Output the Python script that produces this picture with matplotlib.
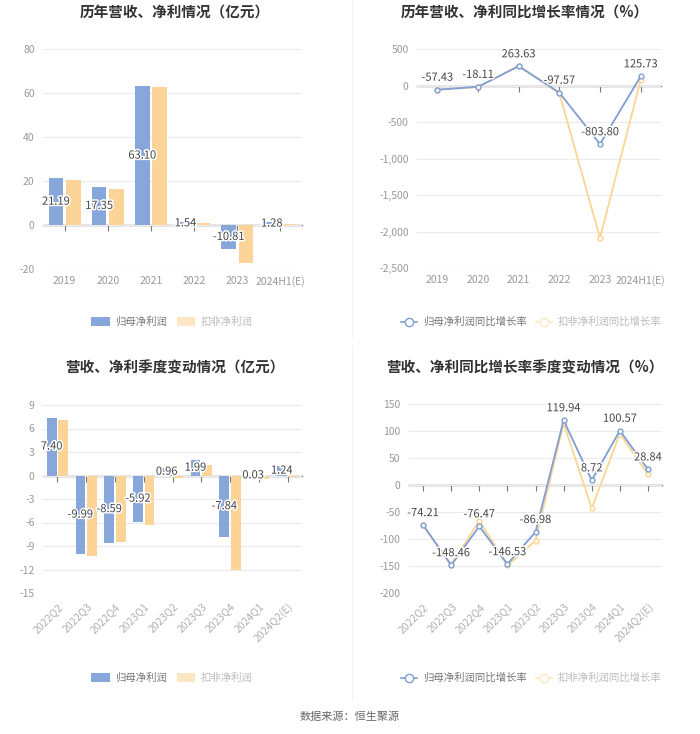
import matplotlib
matplotlib.use("Agg")
import matplotlib.pyplot as plt
import numpy as np
from matplotlib.ticker import FuncFormatter
from matplotlib.lines import Line2D
from matplotlib.patches import Patch
import matplotlib.patheffects as pe

plt.rcParams['font.family'] = ['Noto Sans CJK SC', 'DejaVu Sans']
plt.rcParams['axes.unicode_minus'] = False

# ---- data ----
years = ["2019", "2020", "2021", "2022", "2023", "2024H1(E)"]
profit_parent = [21.19, 17.35, 63.10, 1.54, -10.81, 1.28]
profit_deduct = [20.6, 16.4, 62.6, 0.8, -17.4, 0.4]

growth_parent = [-57.43, -18.11, 263.63, -97.57, -803.80, 125.73]
growth_deduct = [-59, -20, 272, -104, -2090, 78]

quarters = ["2022Q2", "2022Q3", "2022Q4", "2023Q1", "2023Q2", "2023Q3",
            "2023Q4", "2024Q1", "2024Q2(E)"]
q_parent = [7.40, -9.99, -8.59, -5.92, 0.96, 1.99, -7.84, 0.03, 1.24]
q_deduct = [7.1, -10.3, -8.5, -6.3, -0.3, 1.4, -12.1, -0.4, -0.2]

qg_parent = [-74.21, -148.46, -76.47, -146.53, -86.98, 119.94, 8.72, 100.57, 28.84]
qg_deduct = [-74, -148, -66, -149, -103, 114, -43, 95, 20]

legend_bar = ["归母净利润", "扣非净利润"]
legend_line = ["归母净利润同比增长率", "扣非净利润同比增长率"]

# ---- styles ----
BLUE = "#87a6da"
ORANGE = "#fdd497"
LBLUE = "#7f9ed4"
LORANGE = "#fbd593"
W, H = 700, 734


def rect(x0, y0, x1, y1):
    return [x0 / W, 1 - y1 / H, (x1 - x0) / W, (y1 - y0) / H]


def base_axes(ax, cats, ylim, yticks, rotate=False, fmt=None):
    x = np.arange(len(cats))
    ax.set_xlim(-0.5, len(cats) - 0.5)
    ax.set_ylim(*ylim)
    ax.set_yticks(yticks)
    if fmt:
        ax.yaxis.set_major_formatter(FuncFormatter(fmt))
    ax.grid(axis="y", color="#ebebeb", lw=0.8)
    ax.set_axisbelow(True)
    for s in ax.spines.values():
        s.set_visible(False)
    ax.tick_params(axis="y", length=0, labelsize=7.5, labelcolor="#999999", pad=6)
    ax.set_xticks(x)
    if rotate:
        ax.set_xticklabels(cats, rotation=45, ha="right", rotation_mode="anchor")
        ax.tick_params(axis="x", length=0, labelsize=7.5, labelcolor="#b0b0b0", pad=6)
    else:
        ax.set_xticklabels(cats)
        ax.tick_params(axis="x", length=0, labelsize=7.5, labelcolor="#999999", pad=5)
    # zero line with ticks
    sec = ax.secondary_xaxis(0, transform=ax.transData)
    sec.set_xticks(x)
    sec.set_xticklabels([])
    sec.tick_params(length=4, width=0.8, color="#777777")
    sec.spines["bottom"].set_color("#777777")
    sec.spines["bottom"].set_linewidth(1.0)
    return x


stroke = [pe.withStroke(linewidth=2.2, foreground="white")]


def bar_panel(ax, cats, a, b, ylim, yticks, rotate=False):
    x = base_axes(ax, cats, ylim, yticks, rotate)
    ax.bar(x - 0.2, a, width=0.34, color=BLUE, zorder=2)
    ax.bar(x + 0.2, b, width=0.34, color=ORANGE, zorder=2)
    for xi, v in zip(x, a):
        ax.text(xi - 0.2, v / 2, f"{v:.2f}", ha="center", va="center",
                fontsize=8, color="#444444", path_effects=stroke, zorder=5)


def line_panel(ax, cats, a, b, ylim, yticks, rotate=False, fmt=None):
    x = base_axes(ax, cats, ylim, yticks, rotate, fmt)
    ax.plot(x, b, color=LORANGE, lw=1.3, marker="o", ms=3.5, mfc="white",
            mec=LORANGE, mew=1.0, zorder=3)
    ax.plot(x, a, color=LBLUE, lw=1.3, marker="o", ms=3.5, mfc="white",
            mec=LBLUE, mew=1.0, zorder=4)
    for xi, v in zip(x, a):
        ax.annotate(f"{v:.2f}", (xi, v), xytext=(0, 5), textcoords="offset points",
                    ha="center", va="bottom", fontsize=8, color="#444444",
                    path_effects=stroke, zorder=5)


fig = plt.figure(figsize=(7.0, 7.34), dpi=100)

ax1 = fig.add_axes(rect(43, 49, 302, 269))
bar_panel(ax1, years, profit_parent, profit_deduct, (-20, 80), [-20, 0, 20, 40, 60, 80])

ax2 = fig.add_axes(rect(417, 49, 661, 268))
line_panel(ax2, years, growth_parent, growth_deduct, (-2500, 500),
           [-2500, -2000, -1500, -1000, -500, 0, 500], fmt=lambda v, p: f"{v:,.0f}")

ax3 = fig.add_axes(rect(43, 405, 302, 593))
bar_panel(ax3, quarters, q_parent, q_deduct, (-15, 9), [-15, -12, -9, -6, -3, 0, 3, 6, 9],
          rotate=True)

ax4 = fig.add_axes(rect(409, 404, 662, 593))
line_panel(ax4, quarters, qg_parent, qg_deduct, (-200, 150),
           [-200, -150, -100, -50, 0, 50, 100, 150], rotate=True)

# titles
title_kw = dict(ha="center", va="center", fontsize=10.5, fontweight="bold", color="#333333")
fig.text(175 / W, 1 - 13 / H, "历年营收、净利情况（亿元）", **title_kw)
fig.text(525 / W, 1 - 13 / H, "历年营收、净利同比增长率情况（%）", **title_kw)
fig.text(175 / W, 1 - 368 / H, "营收、净利季度变动情况（亿元）", **title_kw)
fig.text(525 / W, 1 - 368 / H, "营收、净利同比增长率季度变动情况（%）", **title_kw)

# legends
bar_handles = [Patch(facecolor=BLUE, edgecolor="none"),
               Patch(facecolor="#fde6c4", edgecolor="none")]
line_handles = [Line2D([], [], color=LBLUE, lw=1.2, marker="o", ms=6, mfc="white", mec=LBLUE),
                Line2D([], [], color="#fde6c4", lw=1.2, marker="o", ms=6, mfc="white",
                       mec="#fde6c4")]
for yy in (322, 678):
    lg = fig.legend(bar_handles, legend_bar, loc="center", ncol=2,
                    bbox_to_anchor=(172 / W, 1 - yy / H), frameon=False, fontsize=7.5,
                    handlelength=1.8, handleheight=0.9, columnspacing=0.9, handletextpad=0.5)
    for t, c in zip(lg.get_texts(), ["#777777", "#bbbbbb"]):
        t.set_color(c)
    lg2 = fig.legend(line_handles, legend_line, loc="center", ncol=2,
                     bbox_to_anchor=(531 / W, 1 - yy / H), frameon=False, fontsize=7.5,
                     handlelength=1.6, columnspacing=0.9, handletextpad=0.5)
    for t, c in zip(lg2.get_texts(), ["#777777", "#bbbbbb"]):
        t.set_color(c)

# separators
fig.add_artist(Line2D([352 / W, 352 / W], [1 - 0 / H, 1 - 337 / H], color="#f2f2f2", lw=0.8))
fig.add_artist(Line2D([352 / W, 352 / W], [1 - 345 / H, 1 - 700 / H], color="#f2f2f2", lw=0.8))

fig.text(350 / W, 1 - 717 / H, "数据来源：恒生聚源", ha="center", va="center",
         fontsize=8, color="#666666")

fig.savefig("out.png", dpi=100)
